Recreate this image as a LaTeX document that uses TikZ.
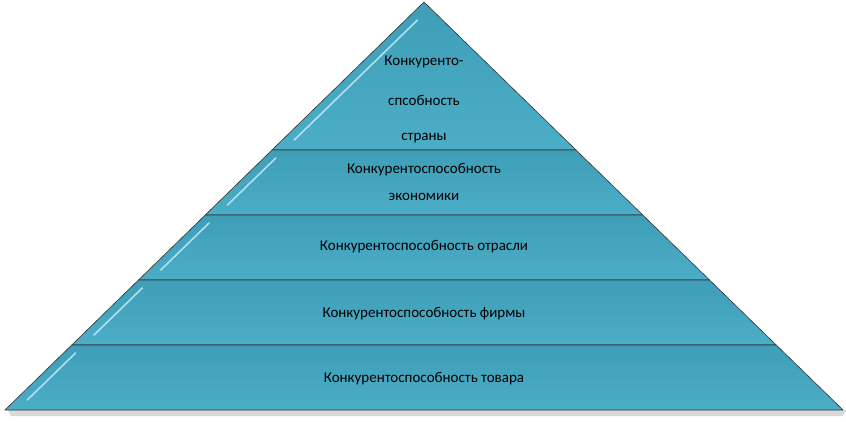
\documentclass[tikz,border=0pt]{standalone}
\usepackage{fontspec}
\setmainfont{Carlito}
\begin{document}
\begin{tikzpicture}[x=1pt,y=-1pt,
  band/.style={draw=black!80,line width=0.6pt,top color=teal1,bottom color=teal2},
  hl/.style={draw=white!80!cyan,line width=1.6pt,line cap=round,opacity=0.8},
  lbl/.style={font=\fontsize{15}{15}\selectfont,align=center}]
\definecolor{teal1}{HTML}{3E9EB8}
\definecolor{teal2}{HTML}{4CADC7}
\useasboundingbox (0,0) rectangle (846,422);
\def\L#1{\fpeval{424-(#1-2)*419/408}}
\def\R#1{\fpeval{424+(#1-2)*419/408}}
% shadow
\fill[black!15] (8,410) -- (846,410) -- (843,416) -- (11,416) -- cycle;
\path[band] (424,2) -- (\R{150},150) -- (\L{150},150) -- cycle;
\path[band] (\L{150},150) -- (\R{150},150) -- (\R{215},215) -- (\L{215},215) -- cycle;
\path[band] (\L{215},215) -- (\R{215},215) -- (\R{280},280) -- (\L{280},280) -- cycle;
\path[band] (\L{280},280) -- (\R{280},280) -- (\R{345},345) -- (\L{345},345) -- cycle;
\path[band] (\L{345},345) -- (\R{345},345) -- (\R{410},410) -- (\L{410},410) -- cycle;
% highlights
\foreach \a/\b in {20/140,158/205,223/270,288/335,353/400}
  \draw[hl] (\fpeval{\L{\a}+12},\a) -- (\fpeval{\L{\b}+12},\b);
\node[lbl] (t1) at (424,62) {Конкуренто-};
\node[lbl] (t2) at (424,100) {спсобность};
\node[lbl] (t3) at (424,138) {страны};
\node[lbl] (e1) at (424,170) {Конкурентоспособность};
\node[lbl] (e2) at (424,197) {экономики};
\node[lbl] (o) at (424,247) {Конкурентоспособность отрасли};
\node[lbl] (f) at (424,314) {Конкурентоспособность фирмы};
\node[lbl] (g) at (424,379) {Конкурентоспособность товара};
\end{tikzpicture}
\end{document}
